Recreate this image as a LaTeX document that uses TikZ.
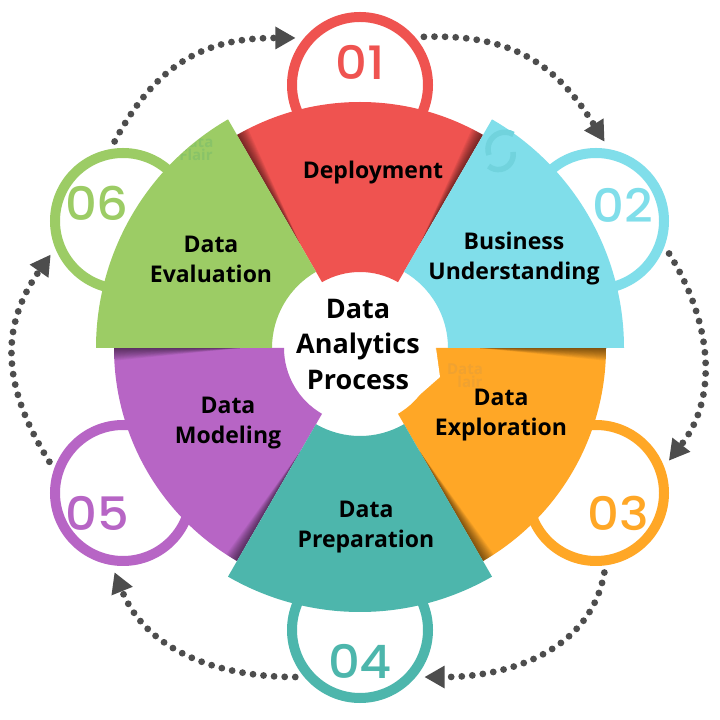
\documentclass[tikz,border=0pt]{standalone}
\usepackage{fontspec}
\setmainfont{Open Sans}
\newfontfamily\numfont{Poppins Medium}
\usetikzlibrary{arrows.meta}

\definecolor{secred}{HTML}{EF5350}
\definecolor{secblue}{HTML}{80DEEA}
\definecolor{secorange}{HTML}{FFA726}
\definecolor{secteal}{HTML}{4DB6AC}
\definecolor{secpurple}{HTML}{B765C5}
\definecolor{secgreen}{HTML}{9CCC65}
\definecolor{flowgray}{HTML}{4D4D4D}

% annular sector: from angle, to angle, outer radius, inner radius
\newcommand{\sect}[4]{(#1:#3) arc (#1:#2:#3) -- (#2:#4) arc (#2:#1:#4) -- cycle}
% dark wedge along one straight edge of a sector
\newcommand{\edgeshade}[2]{\foreach \w in {0.25,0.5,...,3}
	\fill[black, opacity=0.05] (#1:120) -- (#1:250) -- ({#1+#2*\w}:250) -- cycle;}

\begin{document}
\begin{tikzpicture}[x=1pt, y=1pt]
	\tikzstyle{ring}   = [circle, line width=10pt, fill=white, minimum size=136pt, inner sep=0pt, outer sep=12pt]
	\tikzstyle{num}    = [font=\numfont\fontsize{46}{46}\selectfont, inner sep=0pt]
	\tikzstyle{sectxt} = [font=\bfseries\fontsize{23}{30}\selectfont, align=center, inner sep=0pt, text=black]
	\tikzstyle{wmark}  = [font=\bfseries\fontsize{15}{15}\selectfont, inner sep=0pt]
	\tikzstyle{flow}   = [flowgray, line width=6.8pt, line cap=round, dash pattern=on 0pt off 10.6pt,
		-{Triangle[length=20pt, width=23pt, line width=0pt]}]

	\useasboundingbox (0,0) rectangle (720,720);
	\fill[white] (0,0) rectangle (720,720);

	\foreach \n/\x/\y/\col in {1/360/635/secred, 2/596/499/secblue, 3/596/227/secorange,
		4/360/90/secteal, 5/123/227/secpurple, 6/123/499/secgreen}
		\node[ring, draw=\col] (ring\n) at (\x, \y) {};

	\foreach \n/\x/\y/\col in {1/360/658/secred, 2/623/515/secblue, 3/618/207/secorange,
		4/360/59/secteal, 5/97/207/secpurple, 6/97/517/secgreen}
		\node[num, text=\col] (num\n) at (\x, \y) {\scalebox{1.08}[1]{0\n}};

	\foreach \from/\to/\a/\b/\o/\i/\l in {1/2/37/84/2/122/1.1, 2/3/-24/24/-58/52/1, 3/4/-84/-36/-100/0/1,
		4/5/216/264/180/-68/1, 5/6/157/205/122/-125/1.1, 6/1/96/144/62/180/1.1}
		\draw[flow] (ring\from.\a) to[out=\o, in=\i, looseness=\l] (ring\to.\b);

	\begin{scope}[shift={(360,372)}]
		% the three lower sectors, with their shade
		\fill[secred] \sect{60}{120}{246}{76};
		\begin{scope}
			\clip \sect{60}{120}{246}{76};
			\edgeshade{60}{1}
			\edgeshade{120}{-1}
		\end{scope}
		\fill[secorange] \sect{-60}{0}{246}{76};
		\begin{scope}
			\clip \sect{-60}{0}{246}{76};
			\edgeshade{0}{-1}
			\edgeshade{-60}{1}
		\end{scope}
		\fill[secpurple] \sect{180}{240}{246}{76};
		\begin{scope}
			\clip \sect{180}{240}{246}{76};
			\edgeshade{180}{1}
			\edgeshade{240}{-1}
			\node[wmark, text=secpurple!70!blue!70!white] (markp) at (-234,21) {ata};
			\node[wmark, text=secpurple!70!blue!70!white] (markpb) at (-232,9) {air};
		\end{scope}
		% the three upper sectors
		\fill[secblue] \sect{0}{60}{264}{88};
		\fill[secteal] \sect{-120}{-60}{264}{88};
		\fill[secgreen] \sect{120}{180}{264}{88};
		\begin{scope}
			\clip \sect{120}{180}{264}{88};
			\node[wmark, text=secgreen!88!teal] (markg) at (-159,205) {ata};
			\node[wmark, text=secgreen!88!teal] (markgb) at (-164,193) {Flair};
		\end{scope}
	\end{scope}

	% notch in the orange sector
	\fill[white] (436,372) -- (440,343) -- (399,307) -- (420,330) -- cycle;

	% faint logo marks
	\draw[secblue!88!teal, line width=5.5pt] (489,565) arc (200:60:17);
	\draw[secblue!88!teal, line width=5.5pt] (513,568) arc (10:-130:15);
	\node[wmark, text=secorange!88!gray] (marko) at (465,351) {Data};
	\node[wmark, text=secorange!88!gray] (markob) at (470,338) {lair};

	\node[sectxt] (deploy) at (373,547) {Deployment};
	\node[sectxt] (business) at (514,461) {Business\\Understanding};
	\node[sectxt] (explore) at (501,305) {Data\\Exploration};
	\node[sectxt] (prepare) at (366,193) {Data\\Preparation};
	\node[sectxt] (model) at (228,297) {Data\\Modeling};
	\node[sectxt] (evaluate) at (211,461) {Data\\Evaluation};
	\node[sectxt, font=\bfseries\fontsize{27}{35.5}\selectfont] (process) at (358,376) {Data\\Analytics\\Process};
\end{tikzpicture}
\end{document}
